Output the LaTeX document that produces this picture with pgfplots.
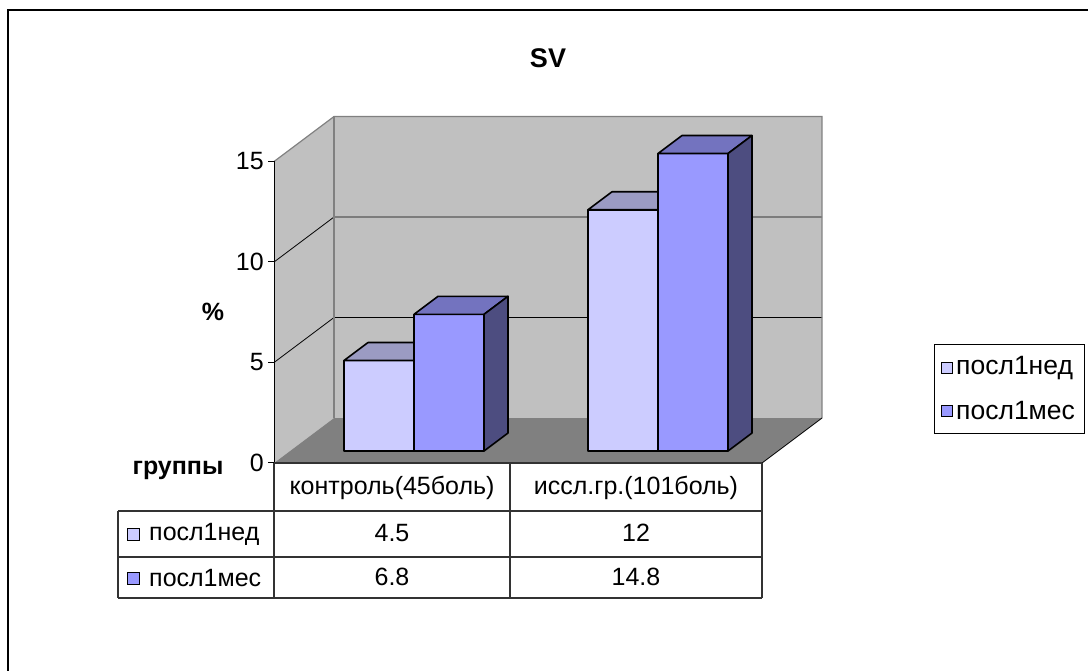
\documentclass[border=0pt]{standalone}
\usepackage{pgfplots}
\pgfplotsset{compat=1.18}
\usepackage{fontspec}
\setmainfont{Liberation Sans}
\definecolor{wall}{HTML}{C0C0C0}
\definecolor{floorc}{HTML}{808080}
\definecolor{edge}{HTML}{808080}
\definecolor{fA}{HTML}{CCCCFF}
\definecolor{tA}{HTML}{9B9BC3}
\definecolor{fB}{HTML}{9999FF}
\definecolor{tB}{HTML}{7373BF}
\definecolor{sB}{HTML}{4D4D80}
\begin{document}
\begin{tikzpicture}
\begin{axis}[
  x={(1pt,0pt)}, y={(0.8pt,0.6pt)}, z={(0pt,20.1pt)},
  xmin=0, xmax=1088, ymin=0, ymax=75, zmin=0, zmax=15,
  hide axis, clip=false,
]
\coordinate (TL) at (axis cs:0,0,23.0348);
% walls and floor
\fill[wall] (axis cs:274,0,0) -- (axis cs:274,75,0) -- (axis cs:274,75,15) -- (axis cs:274,0,15) -- cycle;
\fill[wall] (axis cs:274,75,0) -- (axis cs:762,75,0) -- (axis cs:762,75,15) -- (axis cs:274,75,15) -- cycle;
\fill[floorc] (axis cs:274,0,0) -- (axis cs:762,0,0) -- (axis cs:762,75,0) -- (axis cs:274,75,0) -- cycle;
% grid lines
\draw[black, line width=0.8pt] (axis cs:274,0,5) -- (axis cs:274,75,5) -- (axis cs:762,75,5);
\draw[black, line width=0.8pt] (axis cs:274,0,10) -- (axis cs:274,75,10) -- (axis cs:762,75,10);
\draw[edge, line width=1.2pt] (axis cs:274,0,15) -- (axis cs:274,75,15) -- (axis cs:762,75,15) -- (axis cs:762,75,0);
\draw[edge, line width=1.2pt] (axis cs:274,75,0) -- (axis cs:274,75,15);
\draw[black, line width=0.8pt] (axis cs:762,0,0) -- (axis cs:762,75,0);
% value axis
\draw[black, line width=1pt] (axis cs:274,0,0) -- (axis cs:274,0,15);
\draw[black, line width=1pt] (axis cs:268,0,0) -- (axis cs:274,0,0);
\draw[black, line width=1pt] (axis cs:268,0,5) -- (axis cs:274,0,5);
\draw[black, line width=1pt] (axis cs:268,0,10) -- (axis cs:274,0,10);
\draw[black, line width=1pt] (axis cs:268,0,15) -- (axis cs:274,0,15);
% bars: group 1  (посл1нед = 4.5, посл1мес = 6.8)
\addplot3[fill=fA, draw=black, line width=1.6pt, line join=round, mark=none]
  coordinates {(328,20,0) (398,20,0) (398,20,4.5) (328,20,4.5)} -- cycle;
\addplot3[fill=tA, draw=black, line width=1.6pt, line join=round, mark=none]
  coordinates {(328,20,4.5) (398,20,4.5) (398,50,4.5) (328,50,4.5)} -- cycle;
\addplot3[fill=fB, draw=black, line width=1.6pt, line join=round, mark=none]
  coordinates {(398,20,0) (468,20,0) (468,20,6.8) (398,20,6.8)} -- cycle;
\addplot3[fill=tB, draw=black, line width=1.6pt, line join=round, mark=none]
  coordinates {(398,20,6.8) (468,20,6.8) (468,50,6.8) (398,50,6.8)} -- cycle;
\addplot3[fill=sB, draw=black, line width=1.6pt, line join=round, mark=none]
  coordinates {(468,20,0) (468,50,0) (468,50,6.8) (468,20,6.8)} -- cycle;
% bars: group 2  (посл1нед = 12, посл1мес = 14.8)
\addplot3[fill=fA, draw=black, line width=1.6pt, line join=round, mark=none]
  coordinates {(572,20,0) (642,20,0) (642,20,12) (572,20,12)} -- cycle;
\addplot3[fill=tA, draw=black, line width=1.6pt, line join=round, mark=none]
  coordinates {(572,20,12) (642,20,12) (642,50,12) (572,50,12)} -- cycle;
\addplot3[fill=fB, draw=black, line width=1.6pt, line join=round, mark=none]
  coordinates {(642,20,0) (712,20,0) (712,20,14.8) (642,20,14.8)} -- cycle;
\addplot3[fill=tB, draw=black, line width=1.6pt, line join=round, mark=none]
  coordinates {(642,20,14.8) (712,20,14.8) (712,50,14.8) (642,50,14.8)} -- cycle;
\addplot3[fill=sB, draw=black, line width=1.6pt, line join=round, mark=none]
  coordinates {(712,20,0) (712,50,0) (712,50,14.8) (712,20,14.8)} -- cycle;
\end{axis}
\pgfresetboundingbox
\useasboundingbox (TL) rectangle ++(1088pt,-670pt);
\begin{scope}[shift={(TL)}, x=1pt, y=-1pt, font=\fontsize{25}{30}\selectfont]
  % outer frame
  \draw[black, line width=2.2pt] (8,680) -- (8,10) -- (1100,10);
  % title and labels
  \node[font=\fontsize{27}{32}\selectfont\bfseries] at (548,58) {SV};
  \node[font=\fontsize{25}{30}\selectfont\bfseries] at (213,312) {\%};
  \node[font=\fontsize{25}{30}\selectfont\bfseries] at (178,470) {группы};
  % tick labels
  \node[anchor=east, inner sep=0pt] at (264,463) {0};
  \node[anchor=east, inner sep=0pt] at (264,362) {5};
  \node[anchor=east, inner sep=0pt] at (264,262) {10};
  \node[anchor=east, inner sep=0pt] at (264,161) {15};
  % data table lines
  \draw[black!80, line width=1.1pt] (274,463) -- (762,463);
  \draw[black!80, line width=1.1pt] (118,511) -- (762,511);
  \draw[black!80, line width=1.1pt] (118,557) -- (762,557);
  \draw[black!80, line width=1.1pt] (118,598) -- (762,598);
  \draw[black!80, line width=1.1pt] (118,511) -- (118,598);
  \draw[black!80, line width=1.1pt] (274,463) -- (274,598);
  \draw[black!80, line width=1.1pt] (510,463) -- (510,598);
  \draw[black!80, line width=1.1pt] (762,463) -- (762,598);
  % table text
  \node at (392,488) {контроль(45боль)};
  \node at (636,488) {иссл.гр.(101боль)};
  \node at (392,533) {4.5};
  \node at (636,533) {12};
  \node at (392,577) {6.8};
  \node at (636,577) {14.8};
  \filldraw[fill=fA, draw=black, line width=0.9pt] (127,528) rectangle (139,540);
  \filldraw[fill=fB, draw=black, line width=0.9pt] (127,572) rectangle (139,584);
  \node[anchor=west, inner sep=0pt] at (149,534) {посл1нед};
  \node[anchor=west, inner sep=0pt] at (149,578) {посл1мес};
  % legend
  \draw[black, line width=1pt] (934,345) rectangle (1084,433);
  \filldraw[fill=fA, draw=black, line width=0.9pt] (941,362) rectangle (952,373);
  \filldraw[fill=fB, draw=black, line width=0.9pt] (941,405) rectangle (952,416);
  \node[anchor=west, inner sep=0pt, font=\fontsize{26.5}{30}\selectfont] at (956,368) {посл1нед};
  \node[anchor=west, inner sep=0pt, font=\fontsize{26.5}{30}\selectfont] at (956,411) {посл1мес};
\end{scope}
\end{tikzpicture}
\end{document}
